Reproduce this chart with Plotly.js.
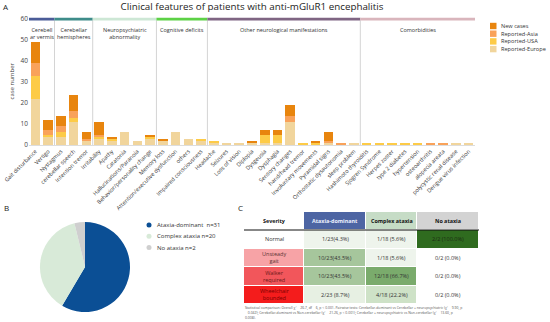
<!DOCTYPE html>
<html><head><meta charset="utf-8">
<script src="https://cdn.plot.ly/plotly-3.0.1.min.js"></script>
<style>html,body{margin:0;padding:0;background:#fff}#chart{width:550px;height:322px}</style>
</head><body><div id="chart"></div><script>
// ---------- Panel A data ----------
const categories = ['Gait disturbance','Vertigo','Nystagmus','cerebellar speech','Intention tremor',
  'Irritability','Apathy','Catatonia','Hallucinations/Paranoia','Behavior/personality change',
  'Memory loss','Attention/executive dysfunction','others','Impaired consciousness',
  'Headache','Seizures','Loss of vision','Diplopia','Dysgeusia','Dysphagia','Sensory changes',
  'hand/head tremor','Involuntary movements','Pyramidal signs','Orthostatic dysautonomia','sleep problem',
  'Hashimoto thyroiditis','Sjogren Syndrome','Herpes zoster','type 2 diabetes','hypertension',
  'osteoarthritis','alopecia areata','polycystic renal disease','Dengue virus infection'];
const reportedEurope = [22,4,4,11,2, 3,2,6,2,3, 2,6,3,2, 1,1,1,1,1,1,11,0,0,1,0,1, 0,0,0,0,0,0,0,1,1];
const reportedUSA    = [11,1,2,2,0, 1,1,0,0,1, 0,0,0,1, 1,0,0,0,4,4,0,1,1,0,0,0, 1,1,1,1,1,0,0,0,0];
const reportedAsia   = [6,2,3,3,1, 1,0,0,0,0, 0,0,0,0, 0,0,0,0,0,0,3,0,0,1,1,0, 0,0,0,0,0,1,1,0,0];
const newCases       = [10,5,5,8,3, 6,1,0,0,1, 1,0,0,0, 0,0,0,1,2,2,5,0,1,4,0,0, 0,0,0,0,0,0,0,0,0];
const seriesNames  = ['Reported-Europe','Reported-USA','Reported-Asia','New cases'];
const seriesColors = ['#F1D59C','#FDCB47','#F9A25A','#E8850E'];
const groupNames  = ['Cerebell<br>ar vermis','Cerebellar<br>hemispheres','Neuropsychiatric<br>abnormality','Cognitive deficits','Other neurological manifestations','Comorbidities'];
const groupSizes  = [2,3,5,4,12,9];
const groupColors = ['#4B5C98','#3E8C8A','#CDE7D5','#5DD146','#7F6583','#D9B5BC'];

// ---------- Panel B data ----------
const pieLabels = ['Ataxia-dominant','Complex ataxia','No ataxia'];
const pieValues = [31,20,2];
const pieColors = ['#0B4F95','#D8EAD8','#CFCFCF'];

// ---------- Panel C data ----------
const tableHeader   = ['Severity','Ataxia-dominant','Complex ataxia','No ataxia'];
const severity      = ['Normal','Unsteady<br>gait','Walker<br>required','Wheelchair<br>bounded'];
const ataxiaDominant= ['1/23(4.3%)','10/23(43.5%)','10/23(43.5%)','2/23 (8.7%)'];
const complexAtaxia = ['1/18 (5.6%)','1/18 (5.6%)','12/18 (66.7%)','4/18 (22.2%)'];
const noAtaxia      = ['2/2 (100.0%)','0/2 (0.0%)','0/2 (0.0%)','0/2 (0.0%)'];
const footnoteLines = [
  'Statistical comparison: Overall χ² = 26.7, df = 6, p < 0.001. Pairwise tests: Cerebellar-dominant vs Cerebellar + neuropsychiatric (χ² = 9.90, p',
  '= 0.042); Cerebellar-dominant vs Non-cerebellar (χ² = 21.26, p < 0.001); Cerebellar + neuropsychiatric vs Non-cerebellar (χ² = 13.60, p =',
  '0.008).'];

// ---------- styling (not data) ----------
const W = 550, H = 322;
const px = x => x / W;
const py = y => 1 - y / H;
const FONT = 'Open Sans, sans-serif';
const colWidths  = [60, 62, 51, 62];
const rowHeights = [18, 18.5, 18.5, 18.5, 18.5];
const tableFill = [
  ['#FFFFFF','#4D65A3','#C6DCC6','#D3D3D3'],
  ['#FFFFFF','#EEF4EC','#EEF4EC','#2F6B1F'],
  ['#F7A3A6','#A6C69C','#EEF4EC','#FFFFFF'],
  ['#F2565B','#A6C69C','#7AAB6C','#FFFFFF'],
  ['#F41C1C','#E7F0E3','#CEE2C7','#FFFFFF']
];
const tableFontColor = [
  ['#111','#EEF2FF','#111','#111'],
  ['#333','#333','#333','#1a2a12'],
  ['#5a3535','#333','#333','#333'],
  ['#6a1a1a','#333','#333','#333'],
  ['#7a0000','#333','#333','#333']
];

const traces = [reportedEurope, reportedUSA, reportedAsia, newCases].map((vals, i) => ({
  type: 'bar', x: categories, y: vals, name: seriesNames[i],
  marker: {color: seriesColors[i], line: {width: 0}},
  showlegend: false, hoverinfo: 'x+y+name'
}));

traces.push({
  type: 'pie', labels: pieLabels, values: pieValues, sort: false, direction: 'clockwise', rotation: 0,
  marker: {colors: pieColors, line: {width: 0}}, textinfo: 'none', showlegend: false,
  domain: {x: [px(40), px(130)], y: [py(312), py(222)]}
});

// table as a heatmap grid on its own axes
const xEdges = [0]; colWidths.forEach(w => xEdges.push(xEdges[xEdges.length - 1] + w));
const yEdges = [0]; rowHeights.forEach(h => yEdges.push(yEdges[yEdges.length - 1] + h));
const tableRows = [tableHeader].concat(severity.map((s, r) => [s, ataxiaDominant[r], complexAtaxia[r], noAtaxia[r]]));
const nCells = tableRows.length * 4;
const flatColors = [].concat(...tableFill);
const zGrid = tableRows.map((row, r) => row.map((_, c) => r * 4 + c));
traces.push({
  type: 'heatmap', xaxis: 'x2', yaxis: 'y2', x: xEdges, y: yEdges, z: zGrid,
  zmin: 0, zmax: nCells - 1, showscale: false, xgap: 1, ygap: 1, hoverinfo: 'skip',
  colorscale: flatColors.map((c, k) => [k / (nCells - 1), c])
});

const shapes = [];
const annotations = [];
let start = 0;
groupSizes.forEach((n, i) => {
  const x0 = start - 0.5, x1 = start + n - 0.5;
  shapes.push({type: 'rect', xref: 'x', yref: 'y', x0: x0, x1: x1, y0: 59.3, y1: 60.7,
    fillcolor: groupColors[i], line: {width: 0}, layer: 'above'});
  if (i > 0) shapes.push({type: 'line', xref: 'x', yref: 'y', x0: x0, x1: x0, y0: 0, y1: 59.3,
    line: {color: '#D4D4D4', width: 1}, layer: 'below'});
  annotations.push({xref: 'x', yref: 'y', x: (x0 + x1) / 2, y: 57.6, yanchor: 'top', showarrow: false,
    text: groupNames[i], font: {family: FONT, size: 5.5, color: '#333'}, align: 'center'});
  start += n;
});

// legend A
[3,2,1,0].forEach((si, k) => {
  const yc = 26 + k * 7.7;
  shapes.push({type: 'rect', xref: 'paper', yref: 'paper', x0: px(490), x1: px(496.5),
    y0: py(yc + 3.2), y1: py(yc - 3.2), fillcolor: seriesColors[si], line: {width: 0}});
  annotations.push({xref: 'paper', yref: 'paper', x: px(499), y: py(yc), xanchor: 'left', yanchor: 'middle',
    showarrow: false, text: seriesNames[si], font: {family: FONT, size: 5.6, color: '#333'}});
});

// legend B
pieLabels.forEach((lab, k) => {
  const yc = 225 + k * 11.3;
  shapes.push({type: 'circle', xref: 'paper', yref: 'paper', x0: px(146.5), x1: px(151.5),
    y0: py(yc + 2.5), y1: py(yc - 2.5), fillcolor: pieColors[k], line: {width: 0}});
  annotations.push({xref: 'paper', yref: 'paper', x: px(155), y: py(yc), xanchor: 'left', yanchor: 'middle',
    showarrow: false, text: lab + (k === 0 ? '  ' : ' ') + 'n=' + pieValues[k],
    font: {family: FONT, size: 6, color: '#333'}});
});

// table texts
tableRows.forEach((row, r) => {
  row.forEach((txt, c) => {
    annotations.push({xref: 'x2', yref: 'y2', x: (xEdges[c] + xEdges[c + 1]) / 2, y: (yEdges[r] + yEdges[r + 1]) / 2,
      showarrow: false, text: r === 0 ? '<b>' + txt + '</b>' : txt, align: 'center',
      font: {family: FONT, size: r === 0 ? 5.4 : 5.5, color: tableFontColor[r][c]}});
  });
});
// header underline
shapes.push({type: 'line', xref: 'x2', yref: 'y2', x0: xEdges[0], x1: xEdges[4], y0: yEdges[1], y1: yEdges[1],
  line: {color: '#111', width: 1}});

// panel letters
[['A', 6, 7], ['B', 6, 207], ['C', 240, 207]].forEach(([t, x, y]) => {
  annotations.push({xref: 'paper', yref: 'paper', x: px(x), y: py(y), xanchor: 'center', yanchor: 'middle',
    showarrow: false, text: t, font: {family: FONT, size: 8, color: '#222'}});
});

// footnote
footnoteLines.forEach((line, k) => {
  annotations.push({xref: 'paper', yref: 'paper', x: px(243), y: py(307.5 + k * 4.8), xanchor: 'left', yanchor: 'middle',
    showarrow: false, align: 'left', text: line, font: {family: FONT, size: 3.4, color: '#555'}});
});

const layout = {
  width: W, height: H, margin: {l: 0, r: 0, t: 0, b: 0},
  paper_bgcolor: '#fff', plot_bgcolor: '#fff',
  font: {family: FONT, color: '#333'},
  title: {text: 'Clinical features of patients with anti-mGluR1 encephalitis',
    x: px(252), xanchor: 'center', y: py(7), yanchor: 'middle', yref: 'container',
    font: {family: FONT, size: 9.8, color: '#222'}},
  barmode: 'stack', bargap: 0.25,
  xaxis: {domain: [px(29), px(475)], type: 'category', range: [-0.5, 34.5], tickangle: -45,
    tickfont: {family: FONT, size: 5.6, color: '#333'}, showline: true, linecolor: '#DDDDDD', linewidth: 1,
    ticks: '', showgrid: false, zeroline: false, automargin: false, fixedrange: true},
  yaxis: {domain: [py(145), py(17.5)], range: [0, 60.7], tickvals: [0,10,20,30,40,50,60],
    tickfont: {family: FONT, size: 6.5, color: '#444'}, showgrid: false, zeroline: false, showline: false,
    ticks: '', title: {text: 'case number', font: {family: FONT, size: 6, color: '#444'}, standoff: 5},
    automargin: false, fixedrange: true},
  xaxis2: {domain: [px(244), px(479)], range: [xEdges[0], xEdges[4]], anchor: 'y2', visible: false, fixedrange: true},
  yaxis2: {domain: [py(304), py(212)], range: [yEdges[5], yEdges[0]], anchor: 'x2', visible: false, fixedrange: true},
  shapes: shapes, annotations: annotations, showlegend: false
};

Plotly.newPlot('chart', traces, layout, {staticPlot: true, displayModeBar: false});
</script></body></html>
